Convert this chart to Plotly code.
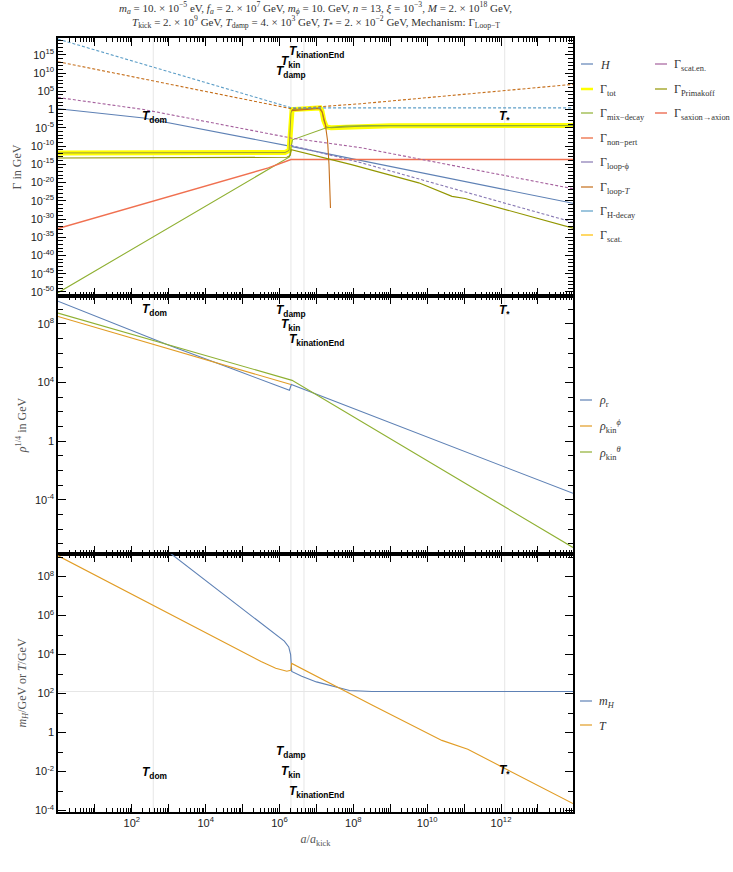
import numpy as np
import plotly.graph_objects as go
from plotly.subplots import make_subplots

# ---------------- top panel: rates, Gamma in GeV (x = a/a_kick) ----------------
H_a = [1, 210, 2.04e6, 8.9e13]
H_val = [1.6, 5e-3, 8e-11, 2e-26]

tot_a = [1, 1.41e6, 1.82e6, 1.95e6, 2.04e6, 2.19e6, 1.26e7, 1.41e7, 1.58e7, 1.86e7, 2.5e7, 1.66e8, 1e9, 8.9e13]
tot_val = [1.26e-12, 1.6e-12, 6.3e-12, 1e-6, 0.1, 1.0, 2.8, 0.4, 1e-3, 1.6e-5, 1e-5, 2.8e-5, 3.8e-5, 4e-5]

mix_a = [1, 1.86e6, 2.04e6, 2.24e6, 1.86e7, 6.3e7, 3.2e8, 8.9e13]
mix_val = [6.3e-51, 1e-13, 3.2e-11, 5e-9, 1e-5, 2.8e-5, 3.8e-5, 4e-5]

nonpert_a = [1, 5e5, 2.04e6, 8.9e13]
nonpert_val = [2.5e-33, 1e-16, 2e-14, 2e-14]

loopphi_a = [2.0e6, 1.66e8, 8.9e13]
loopphi_val = [1.6e-10, 2.5e-15, 1.26e-31]

loopT_a = [2.14e6, 1.2e7, 1.45e7, 1.74e7, 2.0e7, 2.19e7, 2.4e7]
loopT_val = [0.5, 2.0, 0.16, 1e-4, 3.2e-9, 1e-15, 1e-27]

loopT_ext_a = [1, 2.14e6, 1.66e8, 8.9e13]
loopT_ext_val = [1.26e13, 1.6, 40, 8e6]

Hdecay_a = [1, 2.14e6, 8.9e13]
Hdecay_val = [2e19, 2.8, 2.8]

scaten_a = [1, 210, 2.04e6, 1.66e8, 8.9e13]
scaten_val = [2000, 1.0, 1.6e-8, 3.2e-11, 2e-22]

prim_a = [1, 1.58e6, 1.95e6, 2.09e6, 8.9e7, 5.9e9, 4.7e10, 1.07e11, 8.9e13]
prim_val = [5e-14, 8e-14, 2.5e-13, 1e-11, 8e-16, 8e-21, 1.6e-24, 4e-25, 3.2e-33]

# ---------------- middle panel: rho^(1/4) in GeV ----------------
rho_r_a = [1, 930, 5.9e4, 1.35e6, 1.86e6, 2.09e6, 8.9e13]
rho_r_val = [3.5e9, 3.8e6, 7.6e4, 3630, 2950, 7240, 2.75e-4]

rho_phi_a = [1, 2.04e6]
rho_phi_val = [3.2e8, 7200]

rho_theta_a = [1, 2.19e6, 8.9e13]
rho_theta_val = [5.4e8, 1.4e4, 5.6e-8]

# ---------------- bottom panel: m_H and T in GeV ----------------
mH_a = [500, 1.35e6, 1.78e6, 2.0e6, 2.14e6, 4.0e6, 1e7, 3.2e7, 7.9e7, 3.2e8, 8.9e13]
mH_val = [5e9, 4.9e4, 2.5e4, 1e4, 1380, 776, 400, 224, 145, 129, 129]

T_a = [1, 3.16e4, 3.16e5, 7.9e5, 1.58e6, 2.0e6, 2.14e6, 3.1e8, 2.5e10, 1.26e11, 8.9e13]
T_val = [1.17e9, 4e4, 4470, 2000, 1410, 1580, 3550, 27, 0.4, 0.14, 2.3e-4]

# event markers (a/a_kick)
event_lines = [380, 2.04e6, 4.6e6, 1.26e12]
event_names = ["dom", "damp", "kin", "kinationEnd", "*"]
event_label_x = [420, 2.04e6, 2.04e6, 1e7, 1.26e12]
label_y_top = [0.695, 0.869, 0.906, 0.947, 0.695]
label_y_mid = [0.946, 0.942, 0.888, 0.830, 0.943]
label_y_bot = [0.150, 0.232, 0.154, 0.079, 0.157]

SERIF = "Liberation Serif"
SANS = "Liberation Sans"

W, H_PX = 733, 872
ML, MR, MT, MB = 58, 160, 38, 60
PW, PH = W - ML - MR, H_PX - MT - MB

fig = make_subplots(rows=3, cols=1, shared_xaxes=True, vertical_spacing=0)


def add_curve(x, y, color, row, width=1.1, dash="solid"):
    fig.add_trace(go.Scatter(x=x, y=y, mode="lines", showlegend=False, hoverinfo="skip",
                             line=dict(color=color, width=width, dash=dash)), row=row, col=1)


DASH = "3px,2px"
add_curve(H_a, H_val, "#5E81B5", 1)
add_curve(tot_a, tot_val, "#FFFF00", 1, width=5)
add_curve(tot_a, tot_val, "#9C9A3C", 1, width=1)
add_curve(mix_a, mix_val, "#8FB032", 1)
add_curve(nonpert_a, nonpert_val, "#F07050", 1, width=1.4)
add_curve(loopphi_a, loopphi_val, "#8778B3", 1, dash=DASH)
add_curve(loopT_ext_a, loopT_ext_val, "#C56E1A", 1, dash=DASH)
add_curve(loopT_a, loopT_val, "#C56E1A", 1)
add_curve(Hdecay_a, Hdecay_val, "#5D9EC7", 1, dash=DASH)
add_curve(scaten_a, scaten_val, "#A5609D", 1, dash=DASH)
add_curve(prim_a, prim_val, "#929600", 1)

add_curve(rho_r_a, rho_r_val, "#5E81B5", 2)
add_curve(rho_phi_a, rho_phi_val, "#E19C24", 2)
add_curve(rho_theta_a, rho_theta_val, "#8FB032", 2)

add_curve(mH_a, mH_val, "#5E81B5", 3)
add_curve(T_a, T_val, "#E19C24", 3)

# legends drawn by hand: (label, colour, line width, swatch x-pixel, row y-pixel)
legend_items = [
    ("<i>H</i>", "#5E81B5", 1.2, 581, 64),
    ("Γ<sub>tot</sub>", "#FFFF00", 2.5, 581, 89),
    ("Γ<sub>mix−decay</sub>", "#8FB032", 1.2, 581, 113),
    ("Γ<sub>non−pert</sub>", "#EB6235", 1.2, 581, 138),
    ("Γ<sub>loop-ϕ</sub>", "#8778B3", 1.2, 581, 162),
    ("Γ<sub>loop-<i>T</i></sub>", "#C56E1A", 1.2, 581, 187),
    ("Γ<sub>H-decay</sub>", "#5D9EC7", 1.2, 581, 211),
    ("Γ<sub>scat.</sub>", "#FFBF00", 1.2, 581, 235),
    ("Γ<sub>scat.en.</sub>", "#A5609D", 1.2, 655, 64),
    ("Γ<sub>Primakoff</sub>", "#929600", 1.2, 655, 89),
    ("Γ<sub>saxion→axion</sub>", "#E95536", 1.2, 655, 113),
    ("<i>ρ</i><sub>r</sub>", "#5E81B5", 1.2, 580, 400),
    ("<i>ρ</i><sub>kin</sub><sup><i>ϕ</i></sup>", "#E19C24", 1.2, 580, 426),
    ("<i>ρ</i><sub>kin</sub><sup><i>θ</i></sup>", "#8FB032", 1.2, 580, 452),
    ("<i>m</i><sub><i>H</i></sub>", "#5E81B5", 1.2, 580, 701),
    ("<i>T</i>", "#E19C24", 1.2, 580, 725),
]
for name, color, w, px, py in legend_items:
    xp = (px - ML) / PW
    yp = (H_PX - MB - py) / PH
    fig.add_shape(type="line", xref="paper", yref="paper", x0=xp, x1=xp + 12 / PW, y0=yp, y1=yp,
                  line=dict(color=color, width=w))
    fig.add_annotation(text=name, xref="paper", yref="paper", x=xp + 17 / PW, y=yp, xanchor="left",
                       yanchor="middle", showarrow=False, yshift=-1,
                       font=dict(family=SERIF, size=12, color="#333"))

# faint event lines
for xv in event_lines:
    fig.add_vline(x=xv, line=dict(color="#e6e6e6", width=1), layer="below", row="all", col=1)
fig.add_hline(y=129, line=dict(color="#e6e6e6", width=1), layer="below", row=3, col=1)

# event labels
for row, ys in [(1, label_y_top), (2, label_y_mid), (3, label_y_bot)]:
    xr = "x" if row == 1 else f"x{row}"
    yr = "y domain" if row == 1 else f"y{row} domain"
    for name, xv, yv in zip(event_names, event_label_x, ys):
        fig.add_annotation(x=np.log10(xv), y=yv, xref=xr, yref=yr, showarrow=False,
                           xanchor="center", yanchor="middle",
                           text=f"<b><i>T</i><sub>{name}</sub></b>",
                           font=dict(family=SANS, size=12, color="black"))

# axes
xt_vals = [10.0 ** k for k in range(0, 14)]
xt_text = [f"10<sup>{k}</sup>" if (k % 2 == 0 and 2 <= k <= 12) else "" for k in range(0, 14)]
x_minor = [m * 10.0 ** k for k in range(0, 14) for m in range(2, 10)]
frame = dict(showline=True, linecolor="black", linewidth=1.5, mirror="allticks", ticks="inside",
             tickcolor="black", tickwidth=1, ticklen=8, showgrid=False, zeroline=False,
             tickfont=dict(family=SANS, size=11, color="#222"))
for row in (1, 2, 3):
    fig.update_xaxes(type="log", range=[0, 13.95], tickmode="array", tickvals=xt_vals, ticktext=xt_text,
                     minor=dict(tickmode="array", tickvals=x_minor, ticks="inside", ticklen=4,
                                tickcolor="black"),
                     showticklabels=(row == 3), row=row, col=1, **frame)


def ylabels(exps):
    return [10.0 ** k for k in exps], ["1" if k == 0 else f"10<sup>{k}</sup>" for k in exps]


y_specs = [
    (1, [-51.1, 19.6], list(range(-50, 16, 5)), range(-51, 20), "Γ in GeV"),
    (2, [-7.7, 9.9], [-4, 0, 4, 8], range(-8, 11), "<i>ρ</i><sup>1/4</sup> in GeV"),
    (3, [-4.07, 9.16], list(range(-4, 9, 2)), range(-4, 10), "<i>m</i><sub><i>H</i></sub>/GeV or <i>T</i>/GeV"),
]
for row, rng, major, minor_exps, title in y_specs:
    tv, tt = ylabels(major)
    fig.update_yaxes(type="log", range=rng, tickmode="array", tickvals=tv, ticktext=tt,
                     minor=dict(tickmode="array", tickvals=[10.0 ** k for k in minor_exps],
                                ticks="inside", ticklen=5, tickcolor="black"),
                     title=dict(text=title, font=dict(family=SERIF, size=12, color="#555"), standoff=6),
                     row=row, col=1, **frame)

fig.update_xaxes(title=dict(text="<i>a</i>/<i>a</i><sub>kick</sub>", standoff=7,
                            font=dict(family=SERIF, size=12, color="#555")), row=3, col=1)

title_lines = [
    "<i>m</i><sub><i>a</i></sub> = 10. × 10<sup>−5</sup> eV, <i>f</i><sub><i>a</i></sub> = 2. × 10<sup>7</sup> GeV, "
    "<i>m</i><sub><i>ϕ</i></sub> = 10. GeV, <i>n</i> = 13, <i>ξ</i> = 10<sup>−3</sup>, "
    "<i>M</i> = 2. × 10<sup>18</sup> GeV,",
    "<i>T</i><sub>kick</sub> = 2. × 10<sup>9</sup> GeV, <i>T</i><sub>damp</sub> = 4. × 10<sup>3</sup> GeV, "
    "<i>T</i><sub>*</sub> = 2. × 10<sup>−2</sup> GeV, Mechanism: Γ<sub>Loop−T</sub>",
]
for line, yv in zip(title_lines, [1.0385, 1.0205]):
    fig.add_annotation(text=line, x=0.5, y=yv, xref="paper", yref="paper", showarrow=False,
                       xanchor="center", yanchor="middle",
                       font=dict(family=SERIF, size=11, color="#333"))

fig.update_layout(
    width=W, height=H_PX,
    margin=dict(l=ML, r=MR, t=MT, b=MB),
    paper_bgcolor="white", plot_bgcolor="white",
    showlegend=False,
)

fig.write_html("out.html", config={"displayModeBar": False},
               post_script="document.body.style.margin='0';document.body.style.overflow='hidden';")
